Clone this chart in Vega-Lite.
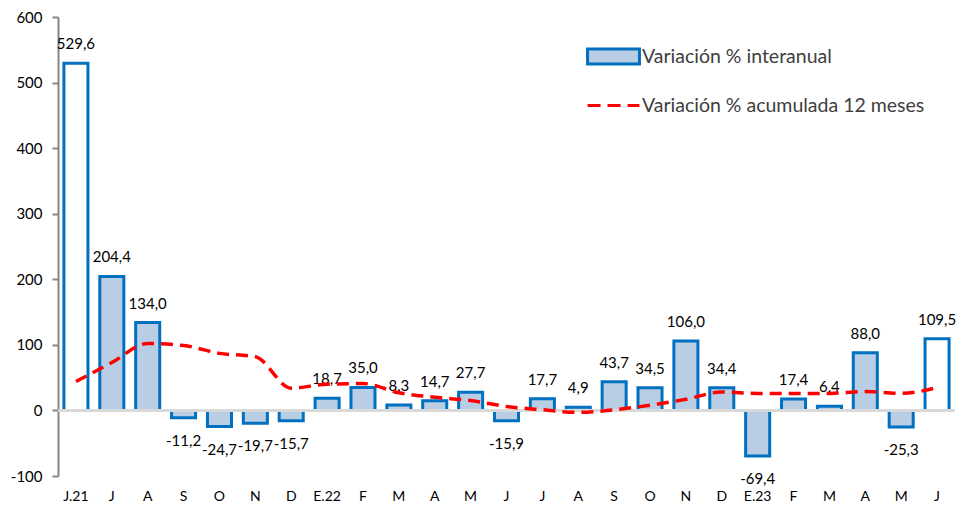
{
  "$schema": "https://vega.github.io/schema/vega-lite/v6.json",
  "width": 897,
  "height": 459,
  "autosize": "none",
  "padding": {"left": 58, "top": 17, "right": 8, "bottom": 32},
  "background": "white",
  "config": {
    "locale": {"number": {"decimal": ",", "thousands": ".", "grouping": [3], "currency": ["", " €"], "minus": "-"}},
    "font": "Lato",
    "view": {"stroke": null}
  },
  "data": {
    "values": [
      {"periodo": "2021-06", "interanual": 529.6, "acumulada": 44},
      {"periodo": "2021-07", "interanual": 204.4, "acumulada": 73},
      {"periodo": "2021-08", "interanual": 134.0, "acumulada": 102},
      {"periodo": "2021-09", "interanual": -11.2, "acumulada": 99},
      {"periodo": "2021-10", "interanual": -24.7, "acumulada": 87},
      {"periodo": "2021-11", "interanual": -19.7, "acumulada": 82},
      {"periodo": "2021-12", "interanual": -15.7, "acumulada": 34},
      {"periodo": "2022-01", "interanual": 18.7, "acumulada": 40},
      {"periodo": "2022-02", "interanual": 35.0, "acumulada": 41},
      {"periodo": "2022-03", "interanual": 8.3, "acumulada": 27},
      {"periodo": "2022-04", "interanual": 14.7, "acumulada": 20},
      {"periodo": "2022-05", "interanual": 27.7, "acumulada": 15},
      {"periodo": "2022-06", "interanual": -15.9, "acumulada": 6},
      {"periodo": "2022-07", "interanual": 17.7, "acumulada": 1},
      {"periodo": "2022-08", "interanual": 4.9, "acumulada": -3},
      {"periodo": "2022-09", "interanual": 43.7, "acumulada": 1},
      {"periodo": "2022-10", "interanual": 34.5, "acumulada": 8},
      {"periodo": "2022-11", "interanual": 106.0, "acumulada": 17},
      {"periodo": "2022-12", "interanual": 34.4, "acumulada": 28},
      {"periodo": "2023-01", "interanual": -69.4, "acumulada": 26},
      {"periodo": "2023-02", "interanual": 17.4, "acumulada": 26},
      {"periodo": "2023-03", "interanual": 6.4, "acumulada": 26},
      {"periodo": "2023-04", "interanual": 88.0, "acumulada": 29},
      {"periodo": "2023-05", "interanual": -25.3, "acumulada": 26},
      {"periodo": "2023-06", "interanual": 109.5, "acumulada": 35}
    ]
  },
  "layer": [
    {
      "mark": {"type": "bar", "stroke": "#0070C0", "strokeWidth": 3},
      "encoding": {
        "x": {
          "field": "periodo", "type": "ordinal",
          "scale": {"paddingInner": 0.33, "paddingOuter": 0.165},
          "axis": {
            "title": null, "domain": false, "ticks": false, "labelAngle": 0,
            "labelFontSize": 14, "labelColor": "#000000", "labelPadding": 13,
            "labelExpr": "datum.value == '2021-06' ? 'J.21' : (slice(datum.value, 5) == '01' ? 'E.' + slice(datum.value, 2, 4) : ['E','F','M','A','M','J','J','A','S','O','N','D'][toNumber(slice(datum.value, 5)) - 1])"
          }
        },
        "y": {
          "field": "interanual", "type": "quantitative",
          "scale": {"domain": [-100, 600], "nice": false, "zero": false},
          "axis": {
            "title": null, "grid": false, "values": [-100, 0, 100, 200, 300, 400, 500, 600],
            "domain": true, "domainColor": "#868686", "domainWidth": 2,
            "ticks": true, "tickColor": "#868686", "tickWidth": 2, "tickSize": 6,
            "labelFontSize": 15, "labelColor": "#000000", "labelPadding": 10
          }
        },
        "fill": {
          "condition": {"test": "datum.periodo == '2021-06' || datum.periodo == '2023-06'", "value": "white"},
          "datum": "Variación % interanual",
          "scale": {"domain": ["Variación % interanual", "Variación % acumulada 12 meses"], "range": ["#B9CDE5", "transparent"]},
          "legend": {
            "title": null, "orient": "none", "legendX": 539, "legendY": 23,
            "labelFontSize": 19.5, "labelColor": "#404040", "labelOffset": 12, "labelLimit": 400,
            "symbolSize": 900, "rowPadding": 19,
            "encode": {
              "symbols": {
                "update": {
                  "shape": {"signal": "datum.value == 'Variación % interanual' ? 'M-1.73,-0.5H1.73V0.5H-1.73Z' : 'M-1.73,0H1.73'"},
                  "strokeDash": {"signal": "datum.value == 'Variación % interanual' ? [200, 0] : [13, 7]"},
                  "strokeWidth": {"value": 3},
                  "strokeOpacity": {"value": 1},
                  "opacity": {"value": 1},
                  "fillOpacity": {"value": 1}
                }
              }
            }
          }
        }
      }
    },
    {
      "data": {"values": [{"cero": 0}]},
      "mark": {"type": "rule", "color": "#D9D9D9", "strokeWidth": 3},
      "encoding": {"y": {"field": "cero", "type": "quantitative"}}
    },
    {
      "transform": [{"filter": "datum.interanual >= 0"}],
      "mark": {"type": "text", "baseline": "middle", "dy": -19, "fontSize": 15, "color": "#000000"},
      "encoding": {
        "x": {"field": "periodo", "type": "ordinal"},
        "y": {"field": "interanual", "type": "quantitative"},
        "text": {"field": "interanual", "type": "quantitative", "format": ".1f"}
      }
    },
    {
      "transform": [{"filter": "datum.interanual < 0"}],
      "mark": {"type": "text", "baseline": "middle", "dy": 23, "fontSize": 15, "color": "#000000"},
      "encoding": {
        "x": {"field": "periodo", "type": "ordinal"},
        "y": {"field": "interanual", "type": "quantitative"},
        "text": {"field": "interanual", "type": "quantitative", "format": ".1f"}
      }
    },
    {
      "mark": {"type": "line", "interpolate": "monotone", "strokeDash": [12, 7], "strokeWidth": 3.5},
      "encoding": {
        "x": {"field": "periodo", "type": "ordinal"},
        "y": {"field": "acumulada", "type": "quantitative"},
        "stroke": {
          "datum": "Variación % acumulada 12 meses",
          "scale": {"domain": ["Variación % interanual", "Variación % acumulada 12 meses"], "range": ["#0070C0", "#FF0000"]},
          "legend": {
            "title": null, "orient": "none", "legendX": 539, "legendY": 23,
            "labelFontSize": 19.5, "labelColor": "#404040", "labelOffset": 12, "labelLimit": 400,
            "symbolSize": 900, "rowPadding": 19,
            "encode": {
              "symbols": {
                "update": {
                  "shape": {"signal": "datum.value == 'Variación % interanual' ? 'M-1.73,-0.5H1.73V0.5H-1.73Z' : 'M-1.73,0H1.73'"},
                  "strokeDash": {"signal": "datum.value == 'Variación % interanual' ? [200, 0] : [13, 7]"},
                  "strokeWidth": {"value": 3},
                  "strokeOpacity": {"value": 1},
                  "opacity": {"value": 1},
                  "fillOpacity": {"value": 1}
                }
              }
            }
          }
        }
      }
    }
  ]
}
